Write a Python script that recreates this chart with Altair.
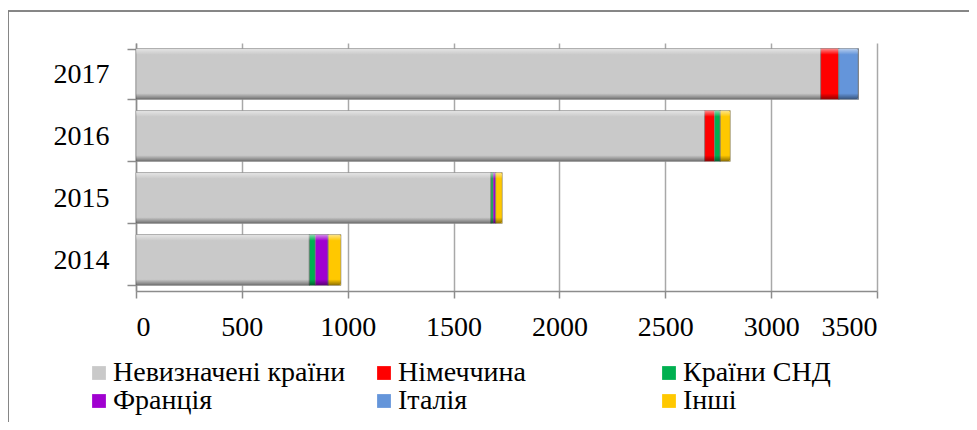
import altair as alt
import pandas as pd

years = ["2017", "2016", "2015", "2014"]
series = ["Невизначені країни", "Німеччина", "Країни СНД", "Франція", "Італія", "Інші"]
colors = ["#C9C9C9", "#FF0000", "#00B050", "#A000D0", "#6495DA", "#FFC800"]
values = {
    "Невизначені країни": [3234, 2686, 1677, 819],
    "Німеччина":          [86,   47,   0,    0],
    "Країни СНД":         [0,    27,   10,   28],
    "Франція":            [0,    0,    12,   61],
    "Італія":             [92,   0,    0,    0],
    "Інші":               [0,    47,   31,   60],
}
x_ticks = [0, 500, 1000, 1500, 2000, 2500, 3000, 3500]

rows = []
for si, s in enumerate(series):
    for yi, y in enumerate(years):
        rows.append({"year": y, "series": s, "order": si, "value": values[s][yi]})
df = pd.DataFrame(rows)
totals = pd.DataFrame({"year": years,
                       "total": [sum(values[s][i] for s in series) for i in range(len(years))]})

FONT = "Liberation Serif"

y_enc = alt.Y("year:N", sort=years, title=None,
              scale=alt.Scale(paddingInner=0.18, paddingOuter=0.09),
              axis=alt.Axis(labelFont=FONT, labelFontSize=28, labelColor="black",
                            labelPadding=18, tickSize=9, tickBand="extent",
                            tickColor="#8c8c8c", domainColor="#8c8c8c",
                            tickWidth=1.5, domainWidth=1.5, grid=False))

bars = alt.Chart(df).mark_bar(stroke="#7a7a7a", strokeWidth=0.6).encode(
    x=alt.X("value:Q", stack="zero", title=None,
            scale=alt.Scale(domain=[0, 3500], nice=False),
            axis=alt.Axis(values=x_ticks, format="d", labelFont=FONT, labelFontSize=28,
                          labelColor="black", labelPadding=15, tickSize=7,
                          tickColor="#8c8c8c", domainColor="#8c8c8c",
                          tickWidth=1.5, domainWidth=1.5,
                          grid=True, gridColor="#a8a8a8", gridWidth=1.5)),
    y=y_enc,
    color=alt.Color("series:N", sort=series,
                    scale=alt.Scale(domain=series, range=colors),
                    legend=alt.Legend(title=None, orient="none", legendX=-51, legendY=316,
                                      columns=3, direction="horizontal",
                                      labelFont=FONT, labelFontSize=28, labelColor="black",
                                      symbolType="square", symbolSize=190, symbolStrokeWidth=0,
                                      labelOffset=0, rowPadding=-2, columnPadding=24,
                                      padding=0, offset=0,
                                      gridAlign="all", labelLimit=400)),
    order=alt.Order("order:Q"),
)

shade = alt.Chart(totals).mark_bar(
    fill=alt.Gradient(gradient="linear", x1=0, y1=0, x2=0, y2=1,
                      stops=[alt.GradientStop(offset=0, color="rgba(255,255,255,0.55)"),
                             alt.GradientStop(offset=0.12, color="rgba(255,255,255,0.0)"),
                             alt.GradientStop(offset=0.88, color="rgba(0,0,0,0.0)"),
                             alt.GradientStop(offset=1, color="rgba(0,0,0,0.45)")]),
    cornerRadiusEnd=3,
).encode(
    x=alt.X("total:Q"),
    y=alt.Y("year:N", sort=years),
)

frame_top = alt.Chart(totals).mark_rule(color="#7f7f7f", strokeWidth=1).encode(
    x=alt.value(-128), x2=alt.value(845), y=alt.value(-32))
frame_left = alt.Chart(totals).mark_rule(color="#7f7f7f", strokeWidth=1).encode(
    x=alt.value(-128), y=alt.value(-32), y2=alt.value(390))

chart = alt.layer(bars, shade, frame_top, frame_left).properties(
    width=741, height=248,
    autosize=alt.AutoSizeParams(type="none"),
    padding={"left": 128, "top": 35, "right": 92, "bottom": 131},
).configure(font=FONT).configure_view(stroke=None)

chart.save("out.html", embed_options={"renderer": "svg", "actions": False})
